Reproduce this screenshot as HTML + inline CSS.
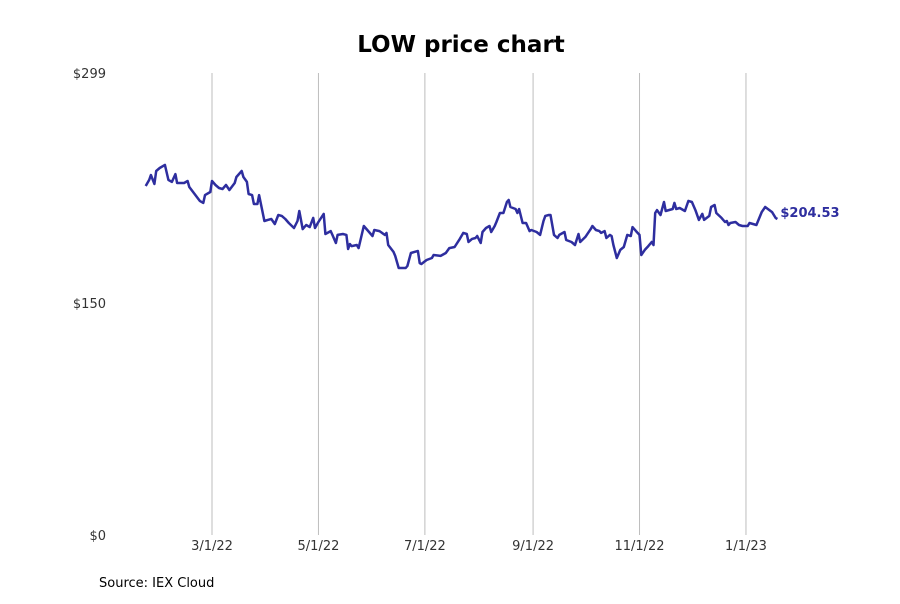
<!DOCTYPE html>
<html><head><meta charset="utf-8"><style>
body{margin:0;background:#fff;font-family:"DejaVu Sans","Liberation Sans",sans-serif}
svg text{font-family:"DejaVu Sans","Liberation Sans",sans-serif}
</style></head><body>
<svg width="900" height="600" xmlns="http://www.w3.org/2000/svg">
<g id="g"></g>
</svg>
<script>
const days=[21,23,24,26,27,29,32,34,36,38,39,43,45,46,49,52,54,55,58,59,61,63,65,67,69,72,73,76,77,79,80,82,83,85,86,89,91,93,95,97,99,101,103,106,108,109,111,113,115,117,118,120,123,124,127,128,130,131,134,136,137,138,139,142,143,146,148,151,152,155,158,159,160,163,164,166,170,171,173,175,177,178,179,182,185,186,190,193,195,198,201,203,205,206,208,210,211,213,214,216,218,219,221,222,224,226,228,229,230,233,234,235,237,239,241,242,245,247,249,250,252,253,255,257,258,261,262,265,267,269,270,273,276,277,279,281,282,284,285,287,288,289,291,293,295,297,299,300,302,304,305,307,309,311,312,313,314,316,318,319,323,324,325,327,330,332,334,336,338,340,341,344,345,347,348,351,353,354,355,356,359,361,363,366,367,369,371,374,376,380,382,383];
const prices=[225.9,229.8,233.0,227.2,235.6,237.5,239.5,229.8,228.5,233.6,227.8,227.8,229.1,225.2,220.7,216.2,214.9,220.0,222.0,229.1,226.5,224.6,223.9,226.5,223.3,227.8,231.7,235.6,231.7,228.5,220.7,220.0,214.2,214.2,220.0,203.2,203.9,204.5,201.3,207.1,206.5,204.5,201.9,198.7,203.2,209.7,198.0,200.6,199.3,205.2,198.7,202.6,207.8,194.8,196.7,194.2,189.0,194.2,194.8,194.2,185.1,188.3,187.0,187.7,185.7,200.0,197.4,193.5,197.4,196.7,194.2,195.5,187.7,183.2,180.6,172.8,172.8,174.1,182.5,183.2,183.8,176.0,175.4,178.0,179.3,181.2,180.6,182.5,185.7,186.4,191.6,195.5,194.8,189.6,191.6,192.2,193.5,189.0,196.1,198.7,200.0,196.1,200.0,202.6,208.4,208.4,215.5,216.8,212.3,211.0,208.4,211.0,201.9,201.9,196.7,197.4,196.1,194.2,203.2,206.5,207.1,207.1,194.2,192.2,194.2,196.1,190.9,189.6,187.7,194.8,189.6,192.9,198.0,200.0,197.4,196.7,195.5,196.7,192.2,194.2,193.5,187.7,179.3,184.5,186.4,194.2,193.5,199.3,196.7,194.2,181.2,184.5,187.0,189.6,187.7,208.4,210.3,207.1,215.5,209.7,211.0,214.9,211.0,211.6,209.7,216.2,215.5,210.3,203.9,207.8,203.9,206.5,212.3,213.6,208.4,205.2,202.6,203.2,200.6,201.9,202.6,200.6,200.0,200.0,201.9,201.3,200.6,209.0,212.3,209.0,205.2,204.53];
const xTickDays=[59,120,181,243,304,365];
const xTickLabels=["3/1/22","5/1/22","7/1/22","9/1/22","11/1/22","1/1/23"];
const yTicks=[0,150,299];
const yTickLabels=["$0","$150","$299"];

const X=d=>212+(d-59)*1.745;
const Y=p=>535-p*(462/299);
const NS="http://www.w3.org/2000/svg";
const g=document.getElementById('g');
function mk(t,a,txt){const e=document.createElementNS(NS,t);for(const k in a)e.setAttribute(k,a[k]);if(txt!=null)e.textContent=txt;g.appendChild(e);return e;}

let t=mk('text',{x:461,y:52,'text-anchor':'middle','font-size':23,'font-weight':'bold',fill:'#000'},'LOW price chart');



xTickDays.forEach((d,i)=>{
  const l=mk('line',{x1:X(d),x2:X(d),y1:73,y2:535,stroke:'#bdbdbd','stroke-width':1});
  
  
  const tx=mk('text',{x:X(d),y:550,'text-anchor':'middle','font-size':13,fill:'#333'},xTickLabels[i]);
  
  
});
yTicks.forEach((v,i)=>{
  const tx=mk('text',{x:106,y:Y(v)+5,'text-anchor':'end','font-size':13,fill:'#333'},yTickLabels[i]);
  
  
});

const pts=days.map((d,i)=>X(d).toFixed(1)+','+Y(prices[i]).toFixed(1)).join(' ');
const pl=mk('polyline',{points:pts,fill:'none',stroke:'#2e2e9f','stroke-width':2.5,'stroke-linejoin':'round'});



const last=prices[prices.length-1];
const lb=mk('text',{x:X(days[days.length-1])+3,y:Y(last)-2,'font-size':13,'font-weight':'bold',fill:'#2e2e9f'},'$'+last.toFixed(2));



const src=mk('text',{x:99,y:587,'font-size':13,fill:'#000'},'Source: IEX Cloud');


</script>
</body></html>
